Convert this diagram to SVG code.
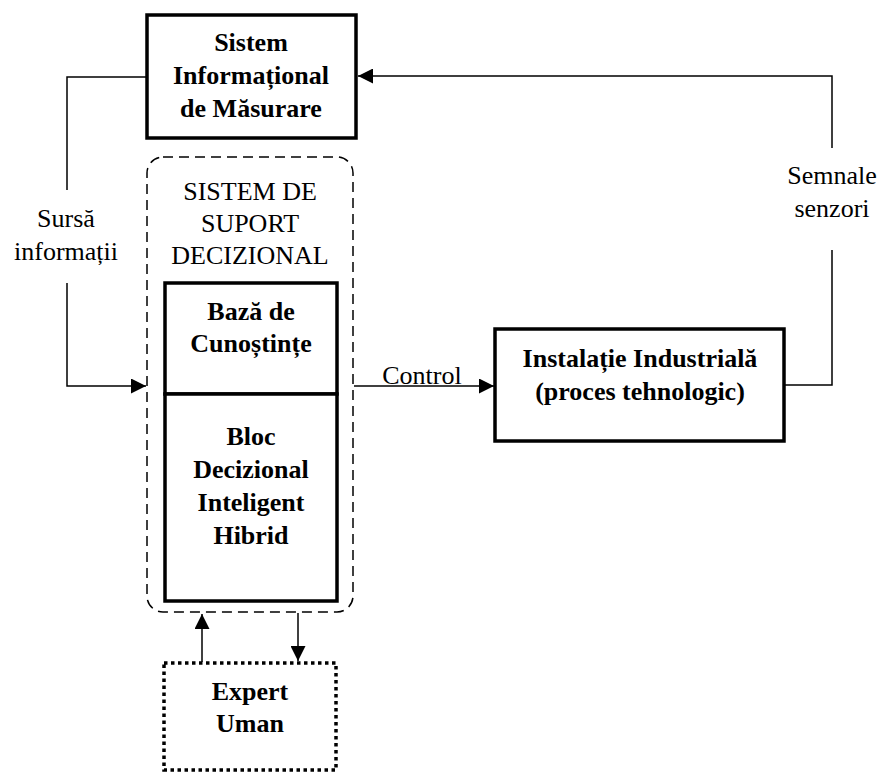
<svg xmlns="http://www.w3.org/2000/svg" width="882" height="773" viewBox="0 0 882 773">
<style>
text{font-family:"Liberation Serif","Times New Roman",serif;font-size:26px;fill:#000;text-anchor:middle}
.b{font-weight:bold}
.box{fill:#fff;stroke:#000;stroke-width:3.5}
.ln{fill:none;stroke:#000;stroke-width:1.5}
</style>
<defs>
<marker id="ah" viewBox="0 0 10 10" refX="10" refY="5" markerWidth="15" markerHeight="15" markerUnits="userSpaceOnUse" orient="auto">
<path d="M0,0 L10,5 L0,10 Z" fill="#000"/>
</marker>
</defs>
<g id="connectors">
<polyline class="ln" points="146,77 67,77 67,190"/>
<polyline class="ln" points="67,283 67,386 146,386" marker-end="url(#ah)"/>
<line class="ln" x1="354" y1="386" x2="494" y2="386" marker-end="url(#ah)"/>
<polyline class="ln" points="785,385 832,385 832,250"/>
<polyline class="ln" points="832,148 832,76 358,76" marker-end="url(#ah)"/>
<line class="ln" x1="202" y1="662" x2="202" y2="614" marker-end="url(#ah)"/>
<line class="ln" x1="298" y1="613" x2="298" y2="661" marker-end="url(#ah)"/>
<text x="66" y="227">Sursă</text>
<text x="66" y="260">informații</text>
<text x="832" y="184">Semnale</text>
<text x="832" y="217">senzori</text>
<text x="422" y="384">Control</text>
</g>
<g id="sim">
<rect class="box" x="147" y="15" width="209" height="123"/>
<text class="b" x="251" y="51">Sistem</text>
<text class="b" x="251" y="84">Informațional</text>
<text class="b" x="251" y="117">de Măsurare</text>
</g>
<g id="ssd">
<rect x="147" y="157" width="206" height="455" rx="16" ry="16" fill="none" stroke="#000" stroke-width="1.5" stroke-dasharray="10,6"/>
<text x="250" y="200">SISTEM DE</text>
<text x="250" y="232">SUPORT</text>
<text x="250" y="264">DECIZIONAL</text>
</g>
<g id="baza">
<rect class="box" x="165" y="283" width="172" height="111"/>
<text class="b" x="251" y="320">Bază de</text>
<text class="b" x="251" y="352">Cunoștințe</text>
</g>
<g id="bloc">
<rect class="box" x="165" y="394" width="172" height="207"/>
<text class="b" x="251" y="445">Bloc</text>
<text class="b" x="251" y="478">Decizional</text>
<text class="b" x="251" y="511">Inteligent</text>
<text class="b" x="251" y="544">Hibrid</text>
</g>
<g id="instalatie">
<rect class="box" x="495" y="329" width="289" height="112"/>
<text class="b" x="640" y="367">Instalație Industrială</text>
<text class="b" x="640" y="400">(proces tehnologic)</text>
</g>
<g id="expert">
<rect x="164" y="663" width="172" height="107" fill="#fff" stroke="#000" stroke-width="3.5" stroke-dasharray="3.5,3.5"/>
<text class="b" x="250" y="700">Expert</text>
<text class="b" x="250" y="732">Uman</text>
</g>
</svg>
